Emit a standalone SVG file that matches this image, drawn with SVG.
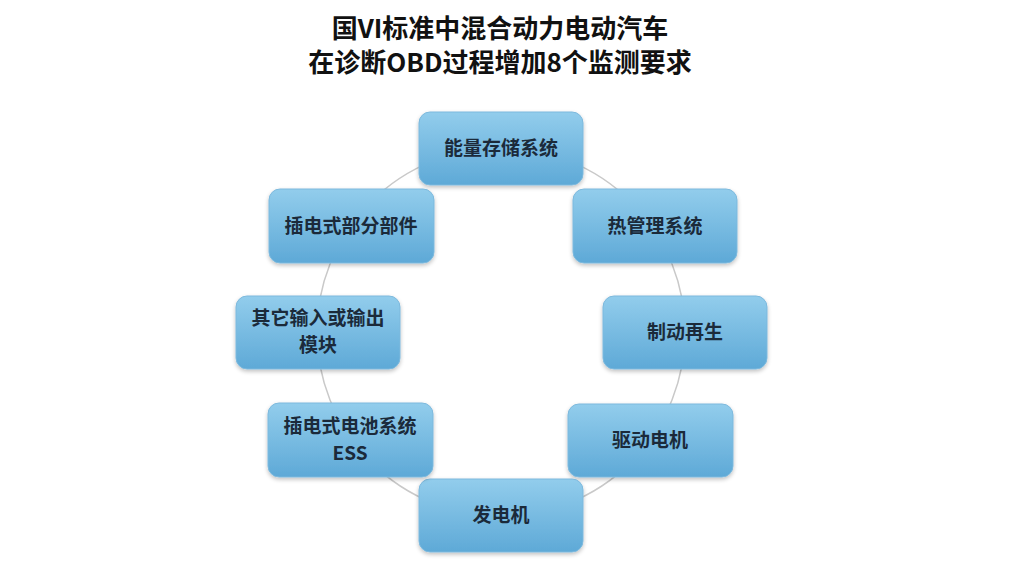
<svg xmlns="http://www.w3.org/2000/svg" width="1013" height="570" viewBox="0 0 1013 570">
<defs>
<linearGradient id="g" x1="0" y1="0" x2="0" y2="1">
<stop offset="0" stop-color="#92cdec"/>
<stop offset="1" stop-color="#5ea9d7"/>
</linearGradient>
<filter id="sh" x="-10%" y="-10%" width="120%" height="130%">
<feGaussianBlur in="SourceAlpha" stdDeviation="2"/>
<feOffset dx="0" dy="2" result="b"/>
<feComponentTransfer><feFuncA type="linear" slope="0.25"/></feComponentTransfer>
<feMerge><feMergeNode/><feMergeNode in="SourceGraphic"/></feMerge>
</filter>
</defs>
<style>
.box{fill:url(#g);stroke:#7db9dd;stroke-width:1;filter:url(#sh)}
.t{font-family:"Noto Sans CJK SC","Noto Sans",sans-serif;font-weight:bold;font-size:19px;fill:#1b2a3a;text-anchor:middle}
.title{font-family:"Noto Sans CJK SC","Noto Sans",sans-serif;font-weight:bold;font-size:26px;fill:#111;text-anchor:middle}
.ring{fill:none;stroke:#c9c9c9;stroke-width:1.5}
</style>
<rect width="1013" height="570" fill="#ffffff"/>
<g id="title">
<text class="title" x="500" y="38">国VI标准中混合动力电动汽车</text>
<text class="title" x="500" y="72">在诊断OBD过程增加8个监测要求</text>
</g>
<g id="connectors">
<circle class="ring" cx="501" cy="332" r="184"/>
</g>
<g id="n1"><rect class="box" x="419" y="112" width="164" height="73" rx="11"/><text class="t" x="501" y="155">能量存储系统</text></g>
<g id="n2"><rect class="box" x="573" y="189" width="164" height="74" rx="11"/><text class="t" x="655" y="233">热管理系统</text></g>
<g id="n3"><rect class="box" x="603" y="296" width="164" height="73" rx="11"/><text class="t" x="685" y="339">制动再生</text></g>
<g id="n4"><rect class="box" x="568" y="404" width="165" height="73" rx="11"/><text class="t" x="650" y="447">驱动电机</text></g>
<g id="n5"><rect class="box" x="419" y="479" width="164" height="73" rx="11"/><text class="t" x="501" y="522">发电机</text></g>
<g id="n6"><rect class="box" x="268" y="403" width="165" height="74" rx="11"/><text class="t" x="350" y="433">插电式电池系统</text><text class="t" x="350" y="460">ESS</text></g>
<g id="n7"><rect class="box" x="236" y="296" width="164" height="73" rx="11"/><text class="t" x="318" y="325">其它输入或输出</text><text class="t" x="318" y="352">模块</text></g>
<g id="n8"><rect class="box" x="269" y="189" width="165" height="74" rx="11"/><text class="t" x="351" y="233">插电式部分部件</text></g>
</svg>
